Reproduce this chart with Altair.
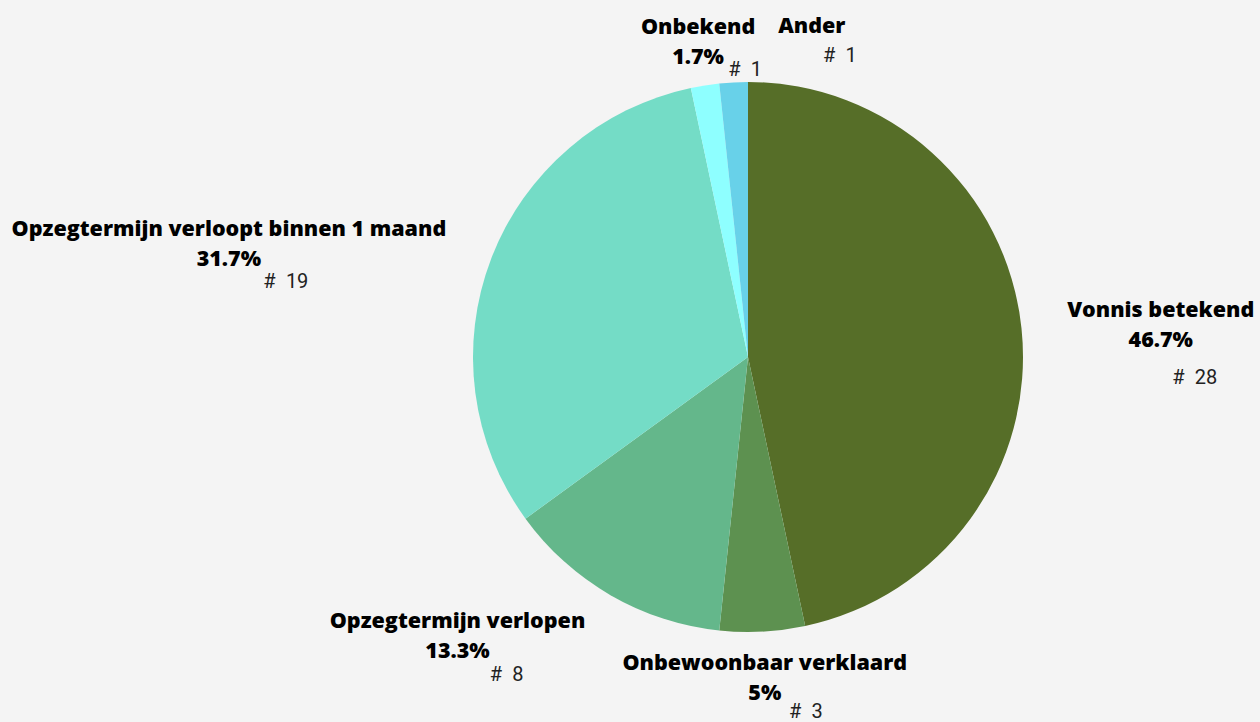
import altair as alt
import pandas as pd

categories = ["Vonnis betekend", "Onbewoonbaar verklaard", "Opzegtermijn verlopen",
              "Opzegtermijn verloopt binnen 1 maand", "Onbekend", "Ander"]
counts = [28, 3, 8, 19, 1, 1]
colors = ["#566e28", "#5d9150", "#64b78b", "#74dcc6", "#8effff", "#68d1e9"]
show_pct = [True, True, True, True, True, False]

total = sum(counts)


def fmt_pct(c):
    v = round(100 * c / total, 1)
    s = f"{v:.1f}".rstrip("0").rstrip(".")
    return s + "%"


labels = [n + ("\n" + fmt_pct(c) if p else "") for n, c, p in zip(categories, counts, show_pct)]
count_labels = [f"#\u2002{c}" for c in counts]

df = pd.DataFrame({
    "idx": list(range(len(categories))),
    "cat": categories,
    "count": counts,
    "label": labels,
    "clabel": count_labels,
})

# layout offsets per label: (radius, dx, dy) for label block, (dx, dy) for count
layout = {
    "Vonnis betekend": (414, 1, -3, 35, 64),
    "Onbewoonbaar verklaard": (321, 0, -14, 41, 34),
    "Opzegtermijn verlopen": (387, -97, -70, -48, -17),
    "Opzegtermijn verloopt binnen 1 maand": (525, -29, 61, 28, 113),
    "Onbekend": (319, 0, -14, 47, 28),
    "Ander": (328, 81, -2, 109, 27),
}

color_scale = alt.Scale(domain=categories, range=colors)

base = alt.Chart(df)

pie = base.mark_arc(outerRadius=275).encode(
    theta=alt.Theta("count:Q", stack=True),
    color=alt.Color("cat:N", scale=color_scale, legend=None),
    order=alt.Order("idx:Q", sort="ascending"),
)

mid_base = base.transform_window(
    cum="sum(count)", sort=[alt.SortField("idx")], frame=[None, 0]
).transform_calculate(mid="datum.cum - datum.count / 2")

layers = [pie]
for cat in categories:
    r, dx, dy, cdx, cdy = layout[cat]
    sub = mid_base.transform_filter(alt.datum.cat == cat)
    layers.append(
        sub.mark_text(
            radius=r, dx=dx, dy=dy, align="center", baseline="middle",
            font="Open Sans", fontWeight=800, fontSize=21.5, color="#000000",
            lineBreak="\n", lineHeight=30,
        ).encode(theta=alt.Theta("mid:Q", stack=None), text="label:N")
    )
    layers.append(
        sub.mark_text(
            radius=r, dx=cdx, dy=cdy, align="center", baseline="middle",
            font="Roboto", fontSize=20, color="#222222",
        ).encode(theta=alt.Theta("mid:Q", stack=None), text="clabel:N")
    )

chart = alt.layer(*layers).properties(
    width=1024, height=714,
    padding={"left": 236, "top": 0, "right": 0, "bottom": 8},
    autosize=alt.AutoSizeParams(type="none"),
    background="#f4f4f4",
).configure_view(stroke=None)

chart.save("out.html", embed_options={"renderer": "svg", "actions": False})
